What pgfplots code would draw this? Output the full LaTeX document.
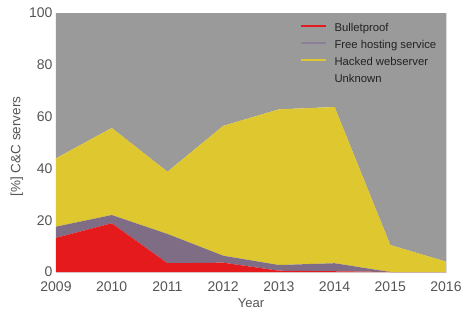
\documentclass[border=0pt]{standalone}
\usepackage{fontspec}
\setmainfont{Liberation Sans}
\usepackage{pgfplots}
\pgfplotsset{compat=1.18}
\definecolor{bpred}{HTML}{E41A1C}
\definecolor{fhpurple}{HTML}{7F6D85}
\definecolor{fhline}{HTML}{8E7F98}
\definecolor{hwyellow}{HTML}{DFC72F}
\definecolor{unkgray}{HTML}{9A9A9A}
\definecolor{axgray}{HTML}{DADADA}
\definecolor{ticktext}{HTML}{555555}
\definecolor{legtext}{HTML}{222222}
\begin{document}
\begin{tikzpicture}
\path[use as bounding box] (-56pt,-37pt) rectangle (407pt,272pt);
\begin{axis}[
  at={(0pt,0pt)}, anchor=south west,
  scale only axis, width=390pt, height=259pt,
  xmin=2009, xmax=2016, ymin=0, ymax=100,
  xtick={2009,2010,2011,2012,2013,2014,2015,2016},
  ytick={0,20,40,60,80,100},
  /pgf/number format/assume math mode=true,
  /pgf/number format/1000 sep={},
  stack plots=y,
  axis line style={draw=axgray, line width=0.8pt},
  tick style={draw=axgray},
  major tick length=3pt,
  tick align=inside,
  ticklabel style={font=\fontsize{14}{16}\selectfont, text=ticktext},
  x tick label style={anchor=base, yshift=-19pt},
  xlabel={Year},
  ylabel={[\%] C\&C servers},
  every axis x label/.style={at={(rel axis cs:0.5,0)}, anchor=base, yshift=-35pt,
    font=\fontsize{13}{15}\selectfont, text=ticktext},
  every axis y label/.style={at={(rel axis cs:0,0.5)}, anchor=center, xshift=-39pt, yshift=-4pt, rotate=90,
    font=\fontsize{13.5}{15}\selectfont, text=ticktext},
  legend style={at={(rel axis cs:0.628,0.96139)}, anchor=north west, draw=none, fill=none,
    inner sep=0pt, font=\fontsize{11.3}{13}\selectfont, row sep=6pt,
    nodes={inner sep=0pt, text height=8.5pt, text depth=2.5pt}},
  legend cell align=left,
  /tikz/every odd column/.append style={column sep=9pt},
]
\addplot[fill=bpred, draw=none, forget plot]
  coordinates {(2009,13.2) (2010,18.8) (2011,3.4) (2012,3.6) (2013,0.5) (2014,0.3) (2015,0) (2016,0)} \closedcycle;
\addplot[fill=fhpurple, draw=none, forget plot]
  coordinates {(2009,4.3) (2010,3.2) (2011,11.3) (2012,2.7) (2013,2.2) (2014,3.1) (2015,0) (2016,0)} \closedcycle;
\addplot[fill=hwyellow, draw=none, forget plot]
  coordinates {(2009,26.4) (2010,33.6) (2011,24.0) (2012,50.1) (2013,60.1) (2014,60.3) (2015,10.4) (2016,4.0)} \closedcycle;
\addplot[fill=unkgray, draw=none, forget plot]
  coordinates {(2009,56.1) (2010,44.4) (2011,61.3) (2012,43.6) (2013,37.2) (2014,36.3) (2015,89.6) (2016,96.0)} \closedcycle;
\addlegendimage{legend image code/.code={\fill[bpred] (0pt,2.3pt) rectangle (24pt,3.7pt);}}
\addlegendentry{\textcolor{legtext}{Bulletproof}}
\addlegendimage{legend image code/.code={\fill[fhline] (0pt,2.3pt) rectangle (24pt,3.7pt);}}
\addlegendentry{\textcolor{legtext}{Free hosting service}}
\addlegendimage{legend image code/.code={\fill[hwyellow] (0pt,2.3pt) rectangle (24pt,3.7pt);}}
\addlegendentry{\textcolor{legtext}{Hacked webserver}}
\addlegendimage{legend image code/.code={\fill[unkgray] (0pt,2.3pt) rectangle (24pt,3.7pt);}}
\addlegendentry{\textcolor{legtext}{Unknown}}
\end{axis}
\end{tikzpicture}
\end{document}
